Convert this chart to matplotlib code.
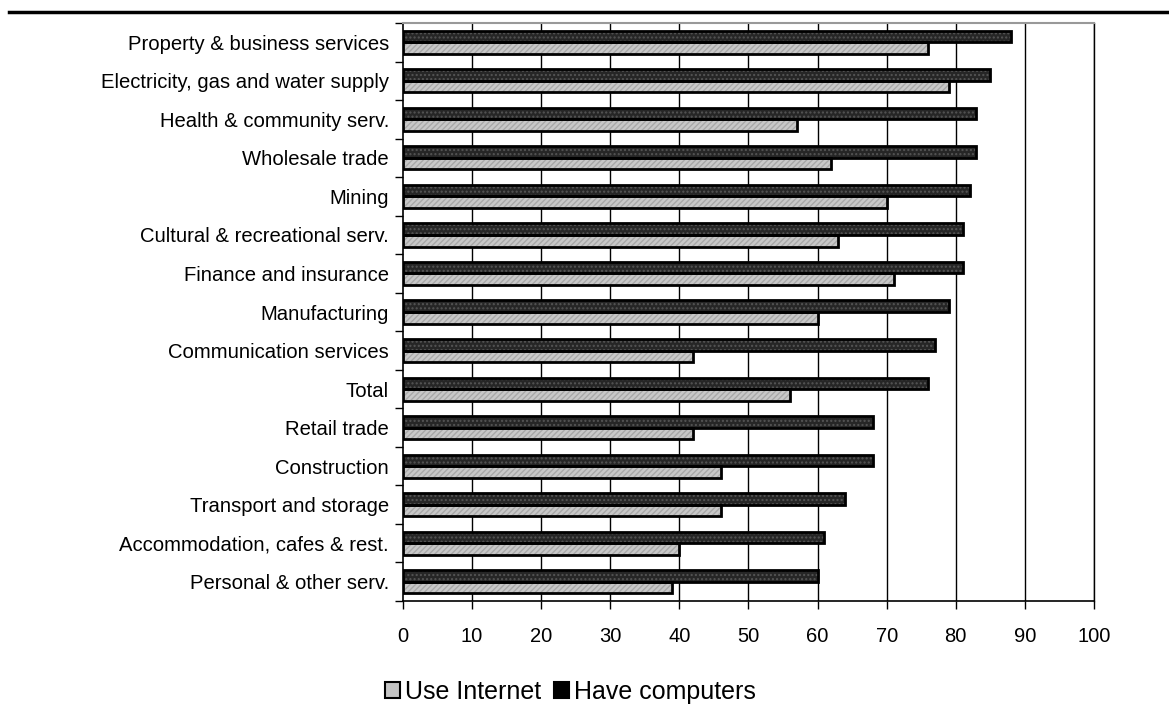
import numpy as np
import matplotlib
matplotlib.use("Agg")
import matplotlib.pyplot as plt
from matplotlib.patches import Patch
from matplotlib.lines import Line2D

plt.rcParams["font.family"] = ["Liberation Sans", "DejaVu Sans"]

# Data (percent of businesses)
industries = [
    "Property & business services",
    "Electricity, gas and water supply",
    "Health & community serv.",
    "Wholesale trade",
    "Mining",
    "Cultural & recreational serv.",
    "Finance and insurance",
    "Manufacturing",
    "Communication services",
    "Total",
    "Retail trade",
    "Construction",
    "Transport and storage",
    "Accommodation, cafes & rest.",
    "Personal & other serv.",
]
have_computers = [88, 85, 83, 83, 82, 81, 81, 79, 77, 76, 68, 68, 64, 61, 60]
use_internet = [76, 79, 57, 62, 70, 63, 71, 60, 42, 56, 42, 46, 46, 40, 39]
x_ticks = [0, 10, 20, 30, 40, 50, 60, 70, 80, 90, 100]

DARK = "#262626"
LIGHT = "#c8c8c8"

fig = plt.figure(figsize=(11.69, 7.19), dpi=100)
ax = fig.add_axes([0.3447, 0.1641, 0.5911, 0.8039])

n = len(industries)
y = np.arange(n)
h = 0.3

# vertical gridlines behind bars
for t in x_ticks[1:]:
    ax.axvline(t, color="black", linewidth=1.0, zorder=0)

# Have computers (top bar of each pair)
ax.barh(y - h / 2, have_computers, height=h, color=DARK, hatch="....",
        edgecolor="#555555", linewidth=0, zorder=2)
ax.barh(y - h / 2, have_computers, height=h, fill=False,
        edgecolor="black", linewidth=2.0, zorder=3)

# Use Internet (lower bar)
ax.barh(y + h / 2, use_internet, height=h, color=LIGHT, hatch="//////",
        edgecolor="#a8a8a8", linewidth=0, zorder=2)
ax.barh(y + h / 2, use_internet, height=h, fill=False,
        edgecolor="black", linewidth=2.0, zorder=3)

ax.set_ylim(n - 0.5, -0.5)
ax.set_xlim(0, 100)

ax.set_yticks(y)
ax.set_yticklabels(industries, fontsize=14.6)
ax.set_yticks(np.arange(-0.5, n, 1), minor=True)
ax.tick_params(axis="y", which="major", length=0, pad=10)
ax.tick_params(axis="y", which="minor", length=6, width=1.0, direction="out")

ax.set_xticks(x_ticks)
ax.set_xticklabels([str(t) for t in x_ticks], fontsize=14.5)
ax.tick_params(axis="x", length=6, width=1.0, direction="out", pad=13)

ax.spines["top"].set_color("#999999")
ax.spines["top"].set_linewidth(1.5)
ax.spines["right"].set_linewidth(1.0)
ax.spines["left"].set_linewidth(1.2)
ax.spines["bottom"].set_linewidth(1.2)

# legend
handles = [
    Patch(facecolor="#c4c4c4", edgecolor="black", linewidth=1.5,
          label="Use Internet"),
    Patch(facecolor="black", edgecolor="black", linewidth=1.5,
          label="Have computers"),
]
fig.legend(handles=handles, loc="center", bbox_to_anchor=(0.488, 0.038),
           ncol=2, frameon=False, fontsize=18, handlelength=0.62,
           handleheight=0.62, handletextpad=0.2, columnspacing=0.5)

# rule across the top of the page
fig.add_artist(Line2D([0.008, 1.0], [0.983, 0.983], color="black",
                      linewidth=2.5, transform=fig.transFigure))

fig.savefig("out.png", dpi=100)
